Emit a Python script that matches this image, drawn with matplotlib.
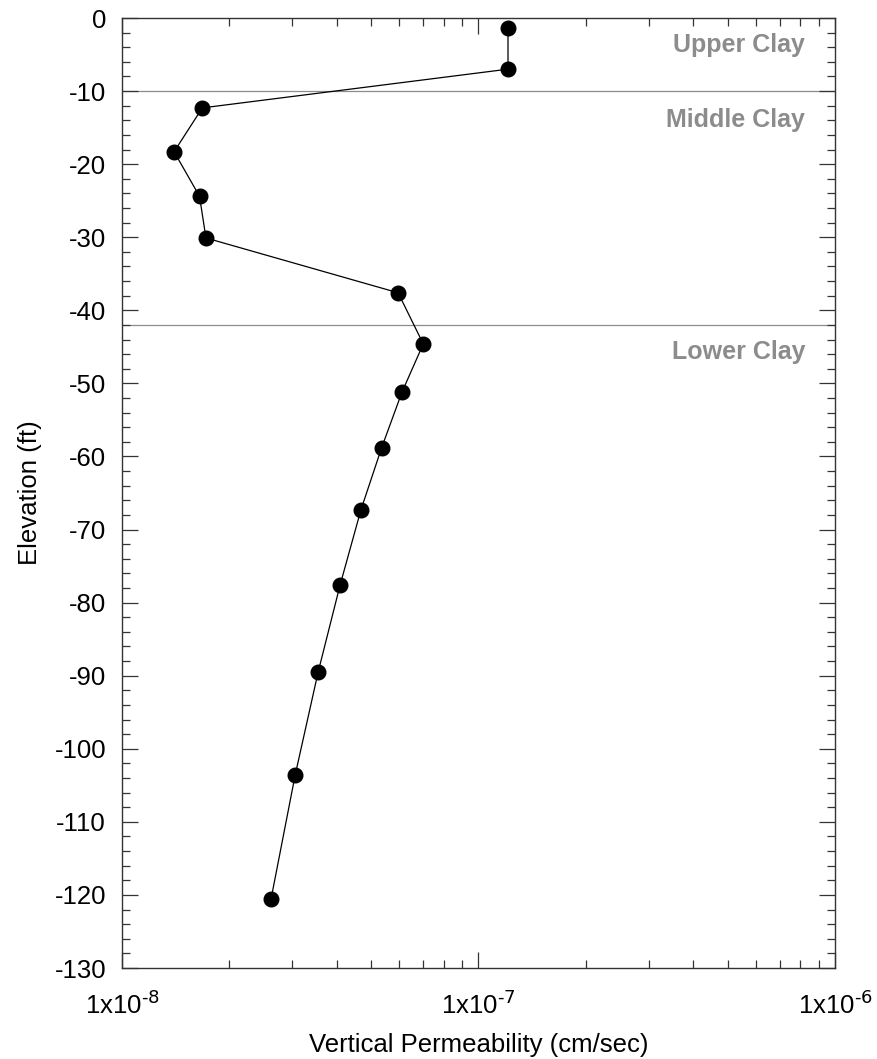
import numpy as np
import matplotlib
matplotlib.use("Agg")
import matplotlib.pyplot as plt
from matplotlib.ticker import FixedLocator, LogLocator, MultipleLocator, NullFormatter

plt.rcParams['font.family'] = ['Liberation Sans', 'DejaVu Sans']
plt.rcParams['mathtext.default'] = 'regular'
plt.rcParams['axes.unicode_minus'] = False

# vertical permeability (cm/sec) vs elevation (ft)
perm = [1.21e-7, 1.21e-7, 1.68e-8, 1.40e-8, 1.65e-8, 1.72e-8, 5.95e-8,
        7.0e-8, 6.1e-8, 5.35e-8, 4.68e-8, 4.09e-8, 3.55e-8, 3.06e-8, 2.62e-8]
elev = [-1.4, -7.0, -12.3, -18.3, -24.4, -30.1, -37.6,
        -44.6, -51.2, -58.8, -67.3, -77.6, -89.5, -103.6, -120.5]

boundaries = [-10, -42]
layer_names = ["Upper Clay", "Middle Clay", "Lower Clay"]
layer_label_y = [-3.7, -14.0, -45.7]

xticks = [1e-8, 1e-7, 1e-6]
xticklabels = [r"1x10$^{\text{-8}}$", r"1x10$^{\text{-7}}$", r"1x10$^{\text{-6}}$"]

fig = plt.figure(figsize=(8.77, 10.59), dpi=100)
ax = fig.add_axes([0.1391, 0.0859, 0.8130, 0.8971])

for b in boundaries:
    ax.axhline(b, color="#8c8c8c", lw=0.9, zorder=1)

ax.plot(perm, elev, color="black", lw=0.9, marker="o", ms=10.5,
        mfc="black", mec="black", zorder=3)

for name, yy in zip(layer_names, layer_label_y):
    ax.text(0.958, yy, name, transform=ax.get_yaxis_transform(),
            ha="right", va="center", fontsize=18, fontweight="bold",
            color="#8c8c8c")

ax.set_xscale("log")
ax.set_xlim(1e-8, 1e-6)
ax.set_ylim(-130, 0)
ax.xaxis.set_major_locator(FixedLocator(xticks))
ax.set_xticklabels(xticklabels)
ax.xaxis.set_minor_locator(LogLocator(base=10, subs=np.arange(2, 10)))
ax.xaxis.set_minor_formatter(NullFormatter())
ax.yaxis.set_major_locator(MultipleLocator(10))
ax.yaxis.set_minor_locator(MultipleLocator(2))

ax.tick_params(which="both", direction="in", top=True, right=True,
               width=0.9, color="#333333", labelsize=18.5)
ax.tick_params(which="major", length=11.5)
ax.tick_params(which="minor", length=5.8)
ax.tick_params(axis="y", which="major", pad=11.5)
ax.tick_params(axis="x", which="major", pad=17)
for s in ax.spines.values():
    s.set_linewidth(1.0)
    s.set_color("#333333")

ax.set_xlabel("Vertical Permeability (cm/sec)", fontsize=18.5, labelpad=10)
ax.set_ylabel("Elevation (ft)", fontsize=18.5, labelpad=9)

fig.savefig("out.png", dpi=100)
